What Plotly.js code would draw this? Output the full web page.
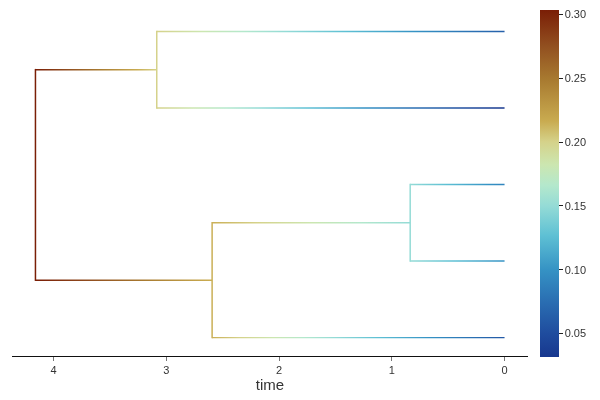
<!DOCTYPE html>
<html>
<head>
<meta charset="utf-8">
<script src="https://cdn.plot.ly/plotly-3.0.1.min.js"></script>
<style>html,body{margin:0;padding:0;background:#fff}#chart{width:600px;height:400px}
#chart svg{will-change:transform}</style>
</head>
<body>
<div id="chart"></div>
<script>
// ---- data ----
const nodeNames  = ['root', 'n1', 'n2', 'n3', 't1', 't2', 't3', 't4', 't5'];
const nodeTime   = [4.161, 3.085, 2.594, 0.837, 0, 0, 0, 0, 0];
const nodeValue  = [0.3036, 0.200, 0.215, 0.150, 0.065, 0.0318, 0.090, 0.100, 0.060];
const nodeParent = [-1, 0, 0, 2, 1, 1, 3, 3, 2];
const leafOrder  = ['t1', 't2', 't3', 't4', 't5'];   // top to bottom
const xTickVals  = [0, 1, 2, 3, 4];
const cbTickVals = [0.05, 0.10, 0.15, 0.20, 0.25, 0.30];

// ---- colour scale (roma, reversed) ----
const CS = [
  [0.000, '#17378e'], [0.067, '#1f4c9e'], [0.160, '#2a6eb2'], [0.250, '#3592c4'],
  [0.350, '#5ec0d4'], [0.435, '#94dbd6'], [0.495, '#b4e8cc'], [0.555, '#cce6b0'],
  [0.620, '#d5d28a'], [0.680, '#c9ab50'], [0.800, '#a87a30'], [0.895, '#925020'],
  [1.000, '#7a1e06']
];
function hex2rgb(h){return [1,3,5].map(i=>parseInt(h.substr(i,2),16));}
function colorAtFrac(f){
  f=Math.max(0,Math.min(1,f));
  for(let i=1;i<CS.length;i++){
    if(f<=CS[i][0]){
      const a=hex2rgb(CS[i-1][1]), b=hex2rgb(CS[i][1]);
      const t=(f-CS[i-1][0])/(CS[i][0]-CS[i-1][0]);
      const c=a.map((v,k)=>Math.round(v+(b[k]-v)*t));
      return 'rgb('+c.join(',')+')';
    }
  }
  return CS[CS.length-1][1];
}
const vmin=Math.min(...nodeValue), vmax=Math.max(...nodeValue);
const frac=v=>(v-vmin)/(vmax-vmin);
function branchScale(vp,vc){
  const fp=frac(vp), fc=frac(vc);
  const pts=[[0,colorAtFrac(fp)]];
  CS.forEach(([s,c])=>{ if((s-fp)*(s-fc)<0) pts.push([(s-fp)/(fc-fp), c]); });
  pts.push([1,colorAtFrac(fc)]);
  pts.sort((a,b)=>a[0]-b[0]);
  return pts;
}

// ---- layout of tree (y positions) ----
const nLeaf=leafOrder.length;
const nodeY=new Array(nodeNames.length).fill(null);
leafOrder.forEach((n,i)=>{nodeY[nodeNames.indexOf(n)]=nLeaf-i;});
function getY(i){
  if(nodeY[i]!==null) return nodeY[i];
  const kids=nodeParent.map((p,k)=>p===i?k:-1).filter(k=>k>=0);
  nodeY[i]=kids.map(getY).reduce((a,b)=>a+b,0)/kids.length;
  return nodeY[i];
}
nodeNames.forEach((_,i)=>getY(i));

const yLo=1-0.06*(nLeaf-1), yHi=nLeaf+0.06*(nLeaf-1);
const plotH=343;
const halfT=0.75*(yHi-yLo)/plotH; // half thickness of branch (~1.5px)

const traces=[];
// horizontal branches with gradient
nodeNames.forEach((_,i)=>{
  const p=nodeParent[i]; if(p<0) return;
  const y=nodeY[i], tc=nodeTime[i], tp=nodeTime[p];
  traces.push({
    type:'scatter', mode:'lines', line:{width:0},
    x:[tc,tp,tp,tc,tc], y:[y-halfT,y-halfT,y+halfT,y+halfT,y-halfT],
    fill:'toself',
    fillgradient:{type:'horizontal', start:tp, stop:tc, colorscale:branchScale(nodeValue[p],nodeValue[i])},
    hoverinfo:'skip', showlegend:false
  });
});
// vertical connectors
nodeNames.forEach((_,i)=>{
  const kids=nodeParent.map((p,k)=>p===i?k:-1).filter(k=>k>=0);
  if(!kids.length) return;
  const ys=kids.map(k=>nodeY[k]);
  traces.push({
    type:'scatter', mode:'lines',
    x:[nodeTime[i],nodeTime[i]], y:[Math.min(...ys)-halfT, Math.max(...ys)+halfT],
    line:{color:colorAtFrac(frac(nodeValue[i])), width:1.5},
    hoverinfo:'skip', showlegend:false
  });
});
// colourbar carrier
traces.push({
  type:'scatter', mode:'markers', x:nodeTime, y:nodeY, hoverinfo:'skip', showlegend:false,
  marker:{color:nodeValue, colorscale:CS, cmin:vmin, cmax:vmax, opacity:0, size:1,
    showscale:true,
    colorbar:{xref:'container', yref:'container', x:539.5/600, xanchor:'left',
      y:1-11.5/400, yanchor:'top', len:346.5, lenmode:'pixels', thickness:18.5,
      xpad:0, ypad:0, outlinewidth:0, ticks:'outside', ticklen:4, tickcolor:'#222',
      tickvals:cbTickVals, tickformat:'.2f',
      tickfont:{family:'Liberation Sans, Arial, sans-serif', size:11, color:'#333'}}}
});

const xRange=[4.161*1.05, -4.161*0.05];
const layout={
  width:600, height:400,
  margin:{l:12, r:72, t:13, b:44},
  paper_bgcolor:'#fff', plot_bgcolor:'#fff',
  font:{family:'Liberation Sans, Arial, sans-serif', color:'#333'},
  xaxis:{range:xRange, showline:true, linecolor:'#111', linewidth:1, showgrid:false, zeroline:false,
    ticks:'outside', ticklen:4, tickcolor:'#777', tickvals:xTickVals,
    tickfont:{size:11, color:'#333'},
    title:{text:'time', font:{size:15, color:'#333'}, standoff:4}},
  yaxis:{range:[yLo,yHi], visible:false, showgrid:false, zeroline:false},
  shapes:[{type:'line', xref:'paper', yref:'paper', x0:(558-12)/516, x1:(558-12)/516,
    y0:(356-355)/343, y1:(356-11)/343, line:{color:'#222', width:1}}]
};
Plotly.newPlot('chart', traces, layout, {displayModeBar:false, staticPlot:true});
</script>
</body>
</html>
